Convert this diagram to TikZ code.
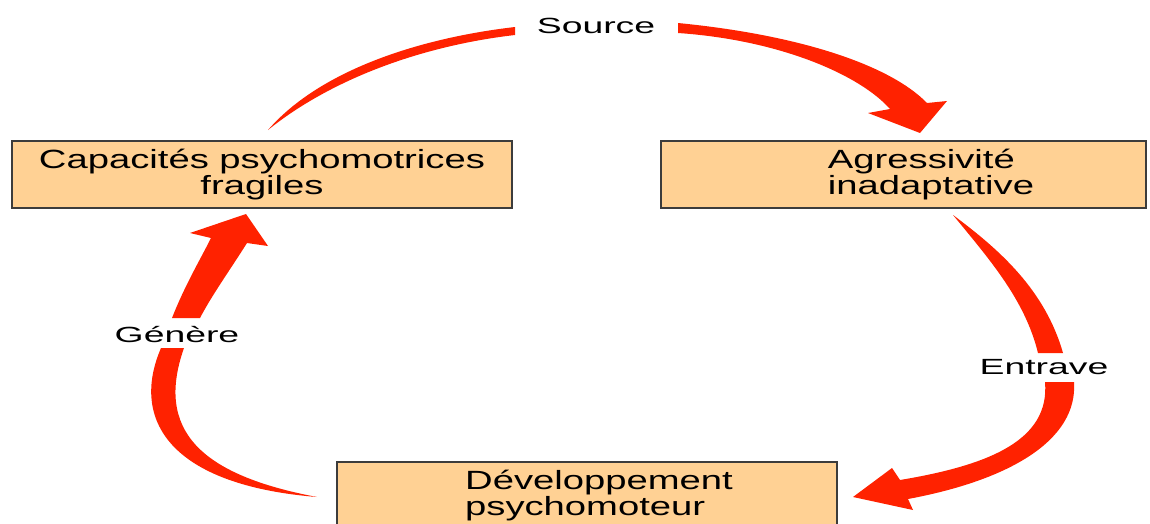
\documentclass[tikz,border=0pt]{standalone}
\usepackage{fontspec}
\setmainfont{Liberation Sans}
\usepackage{graphicx}
\definecolor{arrowred}{HTML}{FF2200}
\definecolor{boxfill}{HTML}{FFD194}
\definecolor{boxline}{HTML}{3C3C3C}
\newcommand{\wb}[1]{\scalebox{1.45}[1]{#1}}
\newcommand{\wl}[1]{\scalebox{1.7}[1]{#1}}
\tikzset{box/.style={draw=boxline, line width=0.9pt, fill=boxfill,
		minimum width=10cm, minimum height=1.34cm, inner sep=0pt,
		font=\fontsize{15}{13.7}\selectfont},
	lbl/.style={font=\fontsize{12.5}{14}\selectfont, inner sep=0pt}}

\begin{document}
\begin{tikzpicture}[x=0.02cm,y=-0.02cm]
		\useasboundingbox (0,0) rectangle (1150,524);
		% boxes
		\node[box, align=center] (cap) at (262,174.5) {\wb{Capacités psychomotrices}\\\wb{fragiles}};
		\node[box, minimum width=9.7cm, align=left] (agr) at (903.5,174.5) {\hspace*{1.1cm}\wb{Agressivité}\\\hspace*{1.1cm}\wb{inadaptative}};
		\node[box, align=left] (dev) at (587,495.5) {\hspace*{0.48cm}\wb{Développement}\\\hspace*{0.48cm}\wb{psychomoteur}};
		
		% labels
		\node[lbl] (src) at (596,26) {\wl{Source}};
		\node[lbl] (ent) at (1044,367) {\wl{Entrave}};
		\node[lbl] (gen) at (177,335) {\wl{Génère}};
		
		% cap -> agr
		\fill[arrowred] (268,130) .. controls (320,70) and (420,38) .. (515,27) -- (515,35) .. controls (420,46) and (330,80) .. (268,130) -- cycle;
		\fill[arrowred] (678,23) .. controls (800,35) and (890,65) .. (927,103) -- (947,101) -- (920,133) -- (868,113) -- (890,109) .. controls (860,75) and (780,40) .. (678,33) -- cycle;
		% agr -> dev
		\fill[arrowred] (953,215) .. controls (990,260) and (1025,300) .. (1038,353) -- (1063,353) .. controls (1045,290) and (1000,250) .. (953,215) -- cycle;
		\fill[arrowred] (1045,382) -- (1074,382) .. controls (1078,440) and (1010,480) .. (908,499) -- (913,510) -- (853,497) -- (892,468) -- (900,480) .. controls (990,465) and (1050,440) .. (1045,382) -- cycle;
		% dev -> cap
		\fill[arrowred] (161,348) -- (184,348) .. controls (155,430) and (200,475) .. (317,497) .. controls (170,485) and (130,420) .. (161,348) -- cycle;
		\fill[arrowred] (172,318) .. controls (185,285) and (200,260) .. (211,238) -- (190,233) -- (246,214) -- (268,246) -- (247,243) .. controls (230,270) and (212,295) .. (200,318) -- cycle;
\end{tikzpicture}
\end{document}
